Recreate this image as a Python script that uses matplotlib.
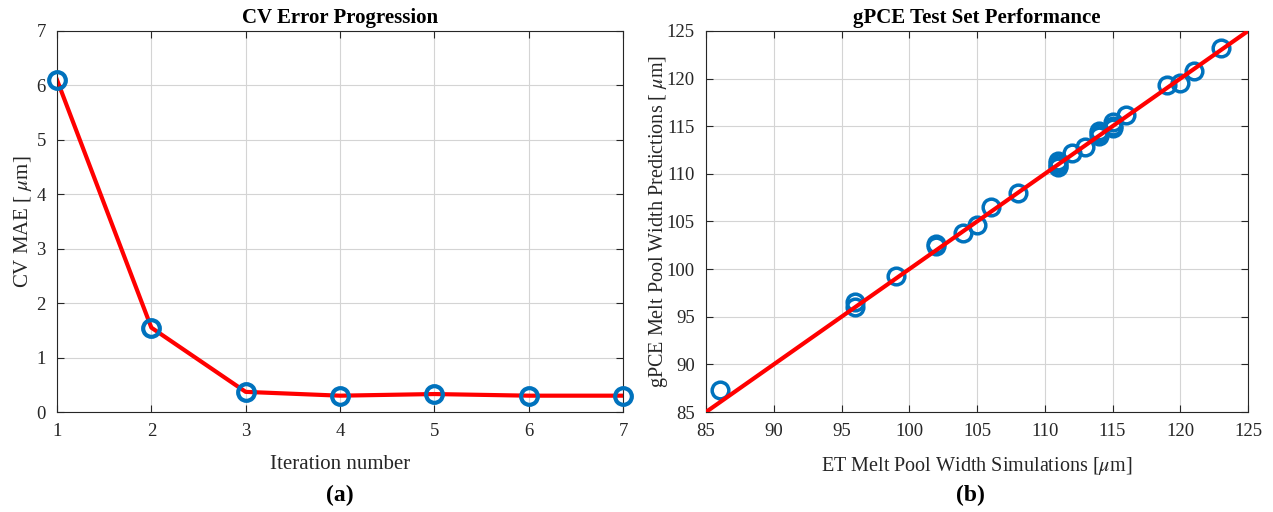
import matplotlib.pyplot as plt
import numpy as np

plt.rcParams['font.family'] = ['Liberation Serif', 'DejaVu Serif']
plt.rcParams['mathtext.fontset'] = 'stix'

# CV error per iteration
iterations = [1, 2, 3, 4, 5, 6, 7]
cv_mae = [6.1, 1.55, 0.37, 0.30, 0.33, 0.30, 0.30]

# ET simulations vs gPCE predictions on the test set
et_width = [86, 96, 96, 99, 102, 102, 104, 105, 106, 108,
            111, 111, 111, 111, 112, 113, 114, 114, 114,
            115, 115, 115, 116, 119, 120, 121, 123]
gpce_width = [87.3, 96.6, 96.0, 99.3, 102.4, 102.6, 103.8, 104.6, 106.5, 108.0,
              111.4, 111.1, 110.8, 110.7, 112.2, 112.8, 114.0, 114.3, 114.5,
              115.4, 115.0, 114.8, 116.2, 119.3, 119.5, 120.8, 123.2]
fit_range = [85, 125]

blue = '#0072BD'

fig = plt.figure(figsize=(12.73, 5.12), dpi=100)
ax1 = fig.add_axes([0.0448, 0.1953, 0.4446, 0.7442])
ax2 = fig.add_axes([0.5546, 0.1953, 0.4258, 0.7442])


def matlab_style(ax):
    ax.grid(True, color='#d4d4d4', linewidth=0.8)
    ax.set_axisbelow(True)
    ax.tick_params(direction='in', top=True, right=True, labelsize=13.5,
                   length=5, width=0.8, colors='#262626', pad=8)
    for s in ax.spines.values():
        s.set_color('#262626')
        s.set_linewidth(0.8)


ax1.plot(iterations, cv_mae, color='red', linewidth=3, zorder=2)
ax1.plot(iterations, cv_mae, 'o', mfc='none', mec=blue, mew=3, ms=12,
         clip_on=False, zorder=3)
ax1.set_xlim(1, 7)
ax1.set_ylim(0, 7)
ax1.set_xticks(range(1, 8))
ax1.set_yticks(range(0, 8))
matlab_style(ax1)
ax1.set_title('CV Error Progression', fontsize=15, fontweight='bold', pad=6)
ax1.set_xlabel('Iteration number', fontsize=15, color='#262626', labelpad=11)
ax1.set_ylabel(r'CV MAE [ $\mu$m]', fontsize=15, color='#262626', labelpad=2)

ax2.plot(et_width, gpce_width, 'o', mfc='none', mec=blue, mew=2.5, ms=12,
         clip_on=False, zorder=2)
ax2.plot(fit_range, fit_range, color='red', linewidth=3, zorder=3)
ax2.set_xlim(85, 125)
ax2.set_ylim(85, 125)
ax2.set_xticks(np.arange(85, 126, 5))
ax2.set_yticks(np.arange(85, 126, 5))
matlab_style(ax2)
ax2.set_title('gPCE Test Set Performance', fontsize=15, fontweight='bold', pad=6)
ax2.set_xlabel(r'ET Melt Pool Width Simulations [$\mu$m]', fontsize=14.5, color='#262626', labelpad=11)
ax2.set_ylabel(r'gPCE Melt Pool Width Predictions [ $\mu$m]', fontsize=14.5, color='#262626', labelpad=-2)

fig.text(0.267, 0.022, '(a)', fontsize=17, fontweight='bold', ha='center')
fig.text(0.762, 0.022, '(b)', fontsize=17, fontweight='bold', ha='center')

fig.savefig('out.png', dpi=100)
